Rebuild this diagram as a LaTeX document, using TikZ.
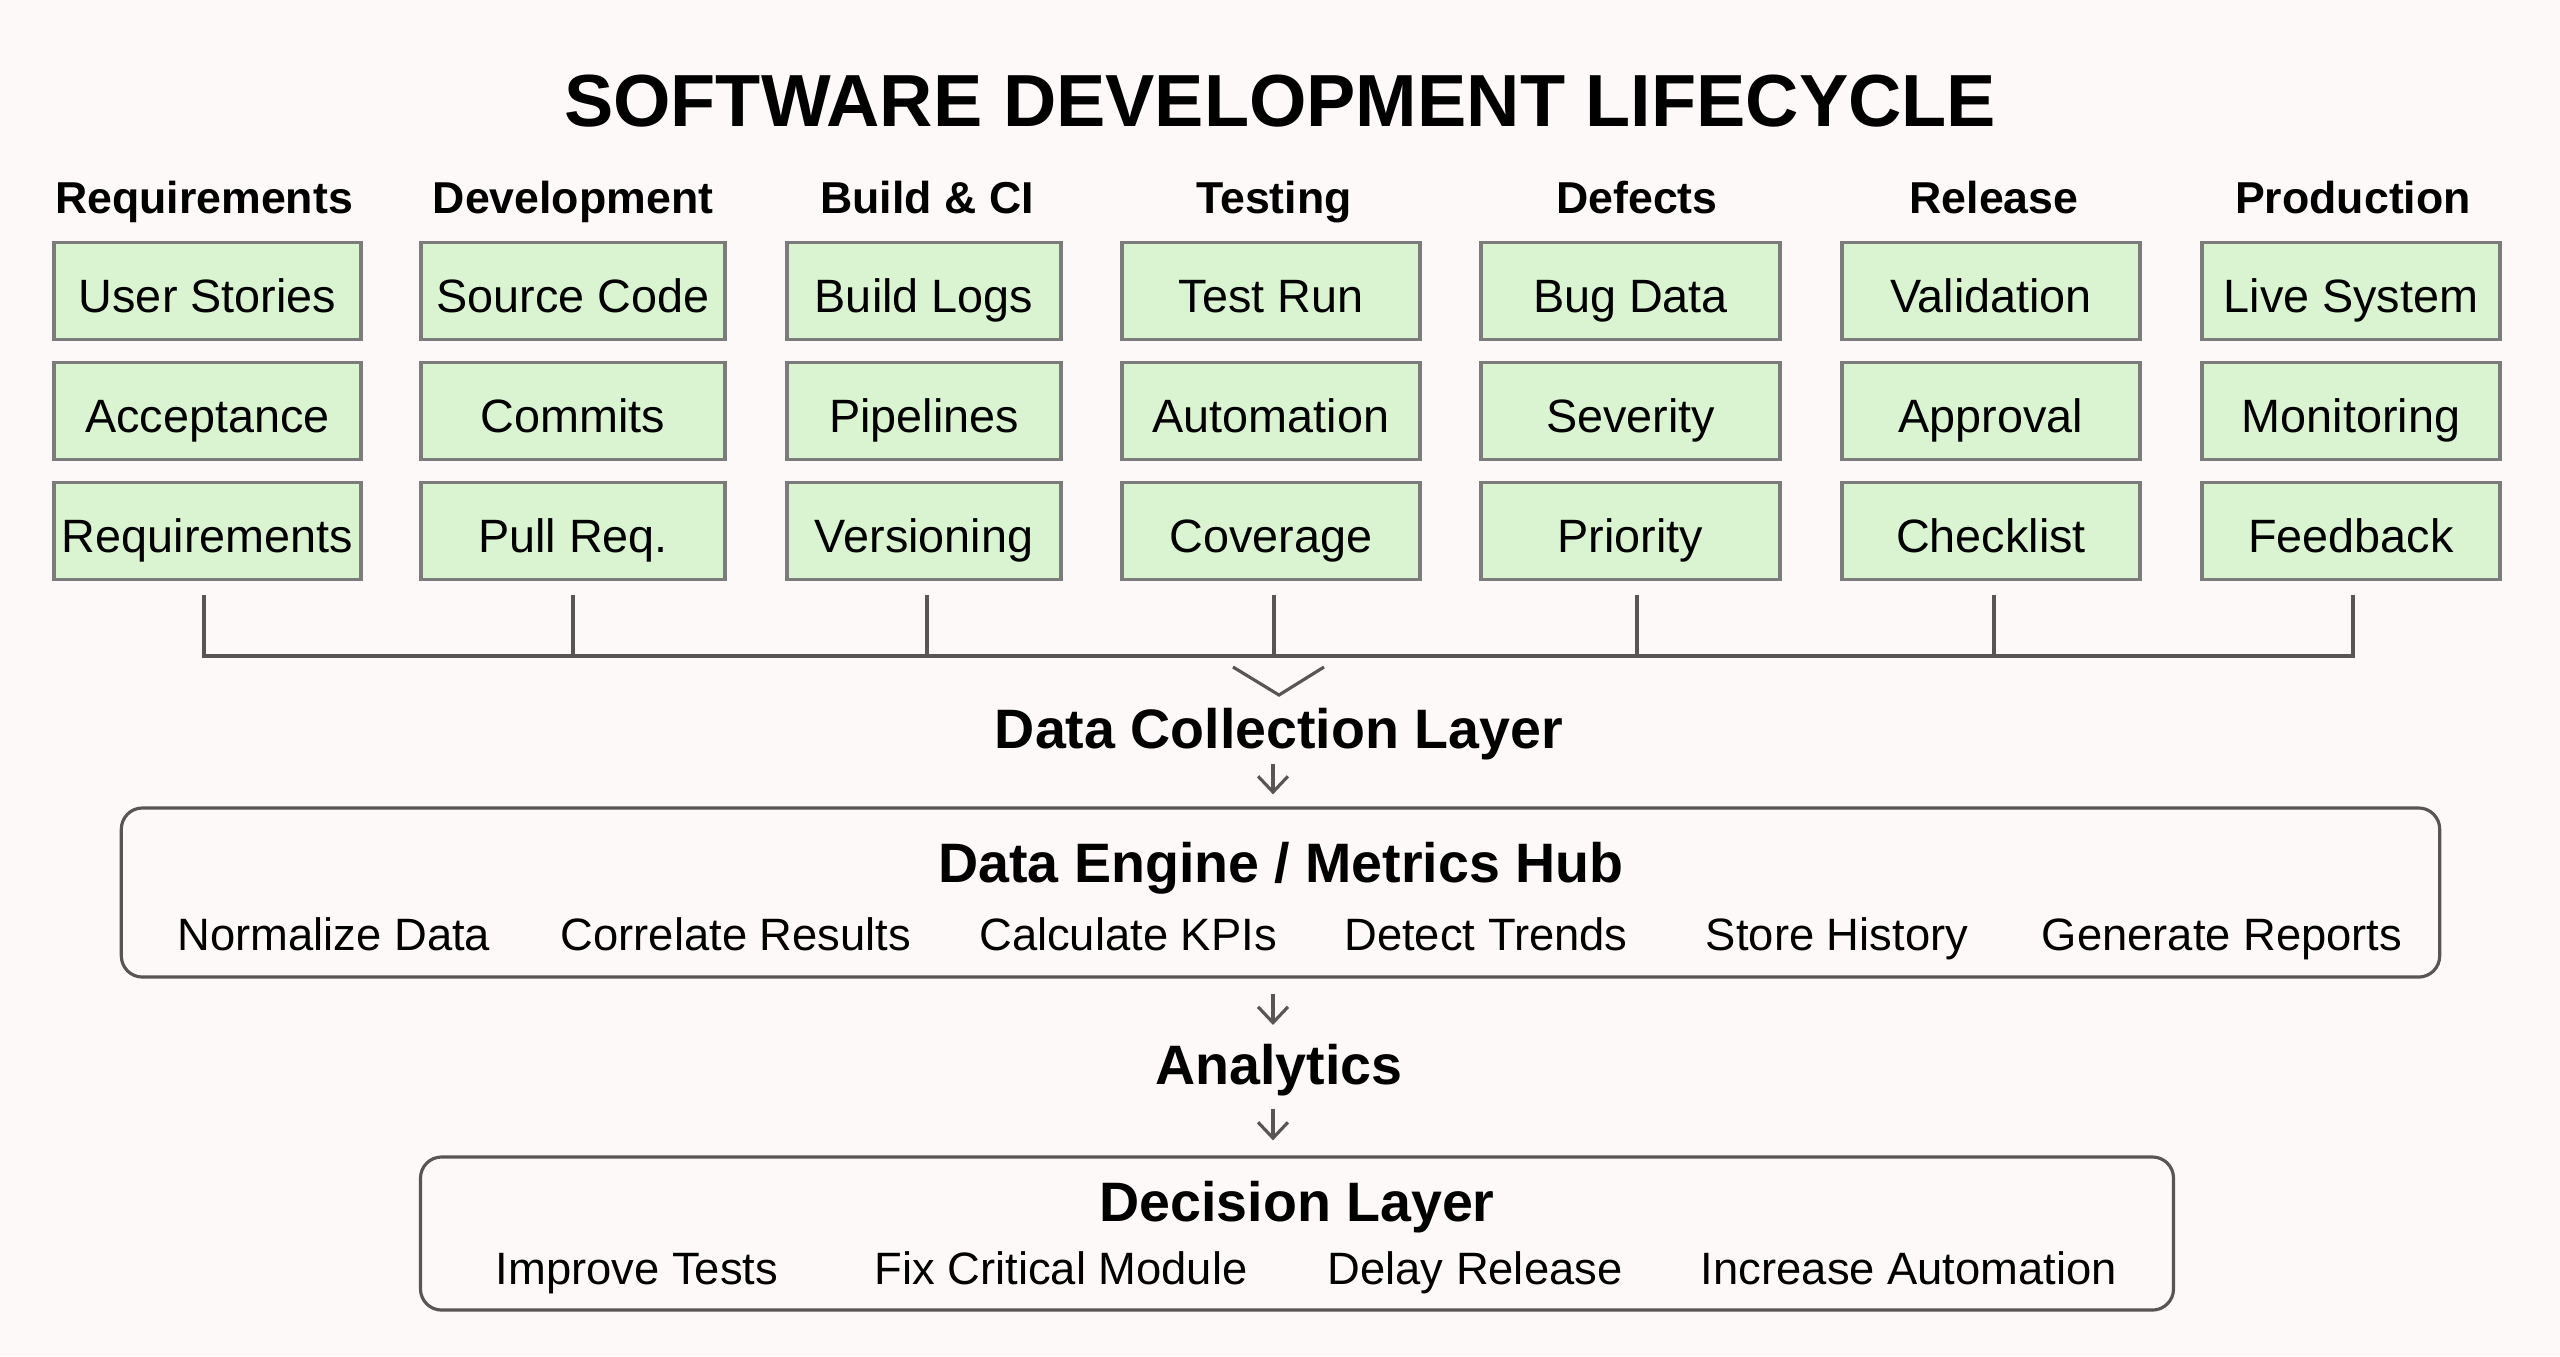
\documentclass[tikz,border=0pt]{standalone}
\usepackage{fontspec}
\setmainfont{Liberation Sans}
\usetikzlibrary{positioning, calc, arrows.meta}

\definecolor{pagebg}{HTML}{FDF9F8}
\definecolor{cellgreen}{HTML}{DAF3D0}
\definecolor{cellgray}{HTML}{7C7C7C}
\definecolor{wiregray}{HTML}{595555}

\tikzset{
  cell/.style={draw=cellgray, fill=cellgreen, line width=1pt, inner sep=0pt,
    minimum height=0.97cm, text height=1.3em, text depth=0.1em,
    font=\fontsize{13.3}{16}\selectfont},
  colhead/.style={anchor=base, inner sep=0pt, font=\fontsize{12.7}{15}\selectfont\bfseries},
  layertitle/.style={anchor=base, inner sep=0pt, font=\fontsize{15.8}{19}\selectfont\bfseries},
  task/.style={anchor=base, inner sep=0pt, font=\fontsize{12.9}{15}\selectfont},
  panel/.style={draw=wiregray, line width=0.9pt, rounded corners=6pt},
  wire/.style={draw=wiregray, line width=0.9pt},
  flow/.style={wire, -{Straight Barb[length=4.5pt, width=8.5pt]}},
}

\begin{document}
\begin{tikzpicture}[x=0.01cm, y=-0.01cm]
\fill[pagebg] (0,0) rectangle (2560,1356);
\useasboundingbox (0,0) rectangle (2560,1356);

\node[anchor=base, inner sep=0pt, font=\fontsize{21}{25}\selectfont\bfseries] (title) at (1280,126) {SOFTWARE DEVELOPMENT LIFECYCLE};

% Lifecycle columns
\coordinate (bus) at (0,656);
\foreach \k/\hx/\cx/\w/\head/\ra/\rb/\rc in {
  1/204/207.5/3.07/Requirements/User Stories/Acceptance/Requirements,
  2/573/573/3.04/Development/Source Code/Commits/Pull Req.,
  3/927/924/2.74/Build \& CI/Build Logs/Pipelines/Versioning,
  4/1274/1271/2.98/Testing/Test Run/Automation/Coverage,
  5/1637/1630.5/2.99/Defects/Bug Data/Severity/Priority,
  6/1994/1991/2.98/Release/Validation/Approval/Checklist,
  7/2353/2351/2.98/Production/Live System/Monitoring/Feedback} {
  \node[colhead] (hd\k) at (\hx,213) {\head};
  \node[cell, minimum width=\w cm] (c\k1) at (\cx,291) {\ra};
  \node[cell, minimum width=\w cm] (c\k2) at (\cx,411) {\rb};
  \node[cell, minimum width=\w cm] (c\k3) at (\cx,531) {\rc};
  \draw[wire] ([yshift=-0.14cm]c\k3.south -| hd\k) -- (hd\k |- bus);
}

% Collection bus
\draw[wire, line cap=rect] (hd1 |- bus) -- (hd7 |- bus);
\coordinate (chev) at (1279,695);
\draw[wire] ($(chev)+(-46,-28)$) -- (chev) -- ($(chev)+(45,-28)$);

\node[layertitle] (collect) at (1279,748) {Data Collection Layer};
\coordinate (spine) at (1273,0);

% Data engine
\node[panel, minimum width=23.17cm, minimum height=1.69cm] (engine) at (1280.5,892.5) {};
\node[layertitle] (enginetitle) at (1281,882) {Data Engine / Metrics Hub};
\foreach \x/\t [count=\n] in {334/Normalize Data, 736/Correlate Results, 1128/Calculate KPIs,
  1486/Detect Trends, 1837/Store History, 2222/Generate Reports}
  \node[task] (eng\n) at (\x,950) {\t};

\draw[flow] ([yshift=-0.16cm]collect.base -| spine) -- ([yshift=0.12cm]engine.north -| spine);

% Analytics
\node[layertitle] (analytics) at (1279,1084) {Analytics};
\draw[flow] ([yshift=-0.15cm]engine.south -| spine) -- ([yshift=0.59cm]analytics.base -| spine);

% Decision layer
\node[panel, minimum width=17.52cm, minimum height=1.53cm] (decision) at (1297,1233.5) {};
\node[layertitle] (decisiontitle) at (1297,1221) {Decision Layer};
\foreach \x/\t [count=\n] in {637/Improve Tests, 1061/Fix Critical Module, 1475/Delay Release,
  1909/Increase Automation}
  \node[task] (dec\n) at (\x,1284) {\t};

\draw[flow] ([yshift=-0.25cm]analytics.base -| spine) -- ([yshift=0.15cm]decision.north -| spine);
\end{tikzpicture}
\end{document}
